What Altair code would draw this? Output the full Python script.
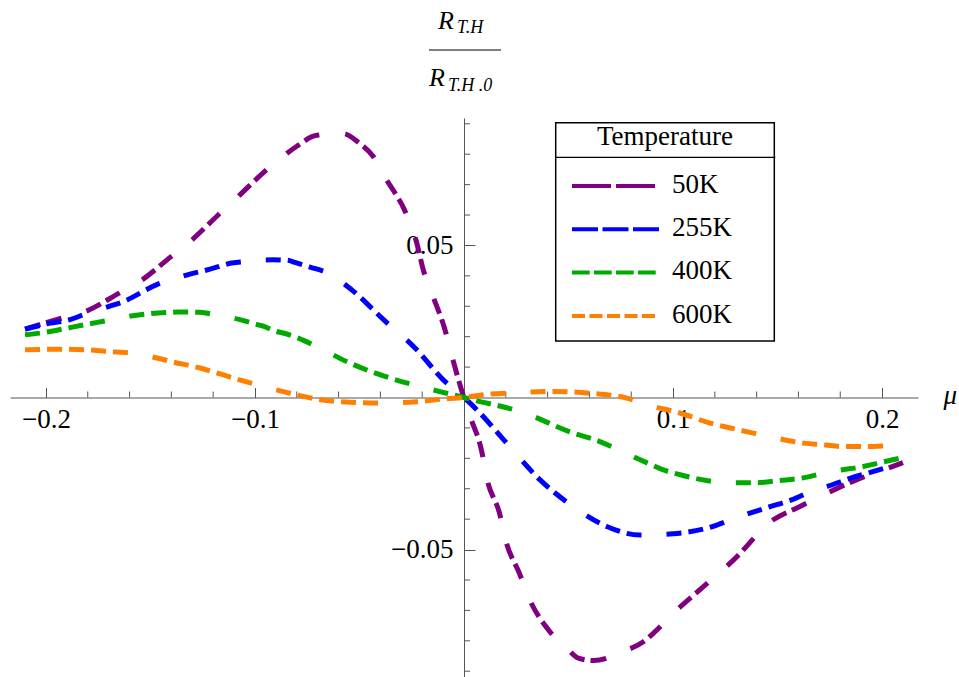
import altair as alt
import pandas as pd

# ---------------- data ----------------
series_names = ["50K", "255K", "400K", "600K"]
series_colors = ["#800080", "#0000FF", "#00AA00", "#FF8000"]
plot_dashes = [
    [16, 6, 16, 26],
    [15, 7, 15, 7, 15, 25],
    [15, 7, 15, 7, 15, 7, 15, 25],
    [15, 7, 15, 7, 15, 7, 15, 7, 15, 25],
]
legend_dashes = [[39, 5], [26, 4.5], [17.7, 4.3], [13, 4.5]]

mu_50 = [-0.21, -0.195, -0.181, -0.165, -0.155, -0.14, -0.131, -0.1175, -0.1088, -0.0944,
         -0.0856, -0.080, -0.0705, -0.058, -0.050, -0.0435, -0.0378, -0.034, -0.0285, -0.0226,
         -0.0195, -0.0148, -0.0091, -0.0053, 0.0, 0.0029, 0.0085, 0.0109, 0.0172, 0.0197,
         0.0268, 0.0308, 0.0411, 0.0491, 0.0547, 0.062, 0.0763, 0.0858, 0.0914, 0.1002,
         0.1137, 0.129, 0.148, 0.159, 0.172, 0.188, 0.200, 0.21]
r_50 = [0.0225, 0.0256, 0.0283, 0.0343, 0.0382, 0.0464, 0.0513, 0.0601, 0.0656, 0.0749,
        0.0798, 0.0826, 0.0862, 0.0868, 0.0836, 0.0793, 0.0723, 0.0683, 0.0617, 0.0508,
        0.042, 0.0332, 0.0223, 0.0124, -0.0002, -0.0062, -0.0178, -0.0265, -0.0386, -0.0463,
        -0.0583, -0.0655, -0.0770, -0.0824, -0.0857, -0.0865, -0.0835, -0.0803, -0.077, -0.0709,
        -0.0627, -0.0534, -0.0402, -0.0364, -0.032, -0.027, -0.024, -0.0214]

mu_255 = [-0.21, -0.1997, -0.1885, -0.1821, -0.1701, -0.1638, -0.147, -0.1319, -0.1215, -0.1111,
          -0.1037, -0.0915, -0.0844, -0.0809, -0.0737, -0.0636, -0.0537, -0.0385, -0.0226, -0.0099,
          0.0, 0.0061, 0.0204, 0.0364, 0.0523, 0.0683, 0.0842, 0.1001, 0.1161, 0.132,
          0.1464, 0.157, 0.166, 0.1735, 0.185, 0.196, 0.209]
r_255 = [0.0225, 0.0242, 0.0256, 0.0272, 0.0299, 0.0313, 0.0371, 0.0404, 0.0422, 0.0442,
         0.0447, 0.0453, 0.0451, 0.0444, 0.0429, 0.0404, 0.0354, 0.0256, 0.0157, 0.0058,
         0.0, -0.004, -0.015, -0.0271, -0.0359, -0.0424, -0.0452, -0.0448, -0.043, -0.0391,
         -0.0359, -0.0336, -0.0309, -0.0293, -0.0265, -0.0243, -0.0216]

mu_400 = [-0.21, -0.2025, -0.192, -0.1818, -0.1707, -0.1585, -0.1407, -0.1367, -0.1263, -0.1191,
          -0.1072, -0.1, -0.0968, -0.0896, -0.0865, -0.0793, -0.0689, -0.0545, -0.0354, -0.021,
          -0.0083, 0.0, 0.0045, 0.0268, 0.0523, 0.065, 0.0772, 0.089, 0.0954, 0.1057,
          0.116, 0.1273, 0.14, 0.151, 0.1616, 0.172, 0.179, 0.191, 0.198, 0.209]
r_400 = [0.0206, 0.0212, 0.0225, 0.0239, 0.0253, 0.0269, 0.028, 0.0281, 0.028, 0.0272,
         0.0256, 0.0242, 0.0236, 0.0217, 0.0212, 0.0195, 0.0162, 0.0113, 0.0064, 0.0036,
         0.0014, 0.0, -0.0008, -0.0046, -0.0117, -0.0145, -0.0183, -0.0219, -0.0238, -0.0258,
         -0.0273, -0.028, -0.028, -0.0273, -0.0265, -0.0249, -0.024, -0.0227, -0.0216, -0.0199]

mu_600 = [-0.21, -0.1917, -0.181, -0.1702, -0.1595, -0.147, -0.14, -0.1263, -0.1104, -0.0992,
          -0.0833, -0.0705, -0.0545, -0.0402, -0.0226, -0.0083, 0.0, 0.0092, 0.0252, 0.0428,
          0.0603, 0.0778, 0.0874, 0.1033, 0.1177, 0.128, 0.1384, 0.1496, 0.1625, 0.1727,
          0.18, 0.1914, 0.2014, 0.209]
r_600 = [0.0157, 0.0159, 0.0157, 0.0151, 0.0146, 0.013, 0.0118, 0.0097, 0.0064, 0.0042,
         0.0014, -0.0005, -0.0016, -0.0018, -0.0014, -0.0004, 0.0, 0.0009, 0.0016, 0.002,
         0.0014, -0.0002, -0.0024, -0.0051, -0.0084, -0.0101, -0.0117, -0.0134, -0.015, -0.0156,
         -0.0161, -0.0161, -0.0159, -0.0158]

series_mu = [mu_50, mu_255, mu_400, mu_600]
series_r = [r_50, r_255, r_400, r_600]

x_major = [-0.2, -0.1, 0.1, 0.2]
x_minor = [-0.18, -0.16, -0.14, -0.12, -0.08, -0.06, -0.04, -0.02,
           0.02, 0.04, 0.06, 0.08, 0.12, 0.14, 0.16, 0.18]
y_major = [-0.05, 0.05]
y_minor = [-0.09, -0.08, -0.07, -0.06, -0.04, -0.03, -0.02, -0.01,
           0.01, 0.02, 0.03, 0.04, 0.06, 0.07, 0.08, 0.09]

legend_title = "Temperature"
x_title = "μ"

# ---------------- layout ----------------
W, H = 908, 559
XD, YD = 0.2172, 0.0919
SERIF = "'Times New Roman', 'Liberation Serif', 'DejaVu Serif', serif"
AX = "#555555"

xscale = alt.Scale(domain=[-XD, XD], nice=False, zero=False)
yscale = alt.Scale(domain=[-YD, YD], nice=False, zero=False)

xaxis = alt.Axis(orient="top", offset=-H / 2, values=x_major, format="~g",
                 labelFont=SERIF, labelFontSize=27, labelColor="black",
                 labelPadding=-39.6, labelBaseline="alphabetic", labelAlign="center",
                 labelFlush=False, labelOverlap=False,
                 tickSize=10, tickColor=AX, tickWidth=1, domainColor=AX, domainWidth=1,
                 grid=False, title=x_title, titleFont=SERIF, titleFontSize=27,
                 titleFontStyle="italic", titleFontWeight="normal", titleColor="black",
                 titleX=933, titleY=5.5, titleAlign="left", titleBaseline="alphabetic",
                 titleAngle=0)
yaxis = alt.Axis(orient="right", offset=-W / 2, values=y_major, format="~g",
                 labelFont=SERIF, labelFontSize=27, labelColor="black",
                 labelPadding=-22, labelAlign="right", labelBaseline="middle",
                 labelFlush=False, labelOverlap=False,
                 tickSize=11, tickColor=AX, tickWidth=1, domainColor=AX, domainWidth=1,
                 grid=False, title="")


def X():
    return alt.X("mu:Q", scale=xscale, axis=xaxis)


def Y():
    return alt.Y("r:Q", scale=yscale, axis=yaxis)


layers = []

# minor ticks (on the axes through the origin)
xt_df = pd.DataFrame({"mu": x_minor, "r": [0.0] * len(x_minor)})
layers.append(alt.Chart(xt_df).mark_tick(
    orient="vertical", size=6, thickness=1, color=AX, yOffset=-3, opacity=1).encode(x=X(), y=Y()))
yt_df = pd.DataFrame({"mu": [0.0] * len(y_minor), "r": y_minor})
layers.append(alt.Chart(yt_df).mark_tick(
    orient="horizontal", size=6, thickness=1, color=AX, xOffset=3, opacity=1).encode(x=X(), y=Y()))

# curves
for name, xs, ys, col, dash in zip(series_names, series_mu, series_r, series_colors, plot_dashes):
    df = pd.DataFrame({"mu": xs, "r": ys, "T": name})
    layers.append(alt.Chart(df).mark_line(
        color=col, strokeWidth=5, strokeDash=dash, strokeCap="butt",
        interpolate="monotone").encode(x=X(), y=Y()))

one = pd.DataFrame({"a": [0]})


def txt(s, x, y, size, style="normal", align="left", baseline="alphabetic"):
    return alt.Chart(one).mark_text(font=SERIF, fontSize=size, fontStyle=style,
                                    align=align, baseline=baseline, color="black").encode(
        x=alt.value(x), y=alt.value(y), text=alt.value(s))


# y-axis label (fraction) at top
layers.append(txt("R", 428, -88.7, 26, "italic"))
layers.append(txt("T.H", 447, -84.7, 18, "italic"))
layers.append(alt.Chart(one).mark_rule(color="black", strokeWidth=1.2).encode(
    x=alt.value(419), x2=alt.value(491), y=alt.value(-68)))
layers.append(txt("R", 419, -32, 26, "italic"))
layers.append(txt("T.H .0", 438, -27.3, 18, "italic"))

# legend box
LX0, LX1, LY0, LY1 = 545.7, 764.3, 4.7, 223
layers.append(alt.Chart(one).mark_rect(fill="white", stroke="black", strokeWidth=1.5).encode(
    x=alt.value(LX0), x2=alt.value(LX1), y=alt.value(LY0), y2=alt.value(LY1)))
layers.append(alt.Chart(one).mark_rule(color="black", strokeWidth=1.2).encode(
    x=alt.value(LX0), x2=alt.value(LX1 + 1), y=alt.value(39.3)))
layers.append(txt(legend_title, (LX0 + LX1) / 2, 27, 27, align="center"))

row_y0, row_step = 68, 43.3
line_x1 = [645.7, 650, 645.7, 645.7]
for i, (name, col, ld) in enumerate(zip(series_names, series_colors, legend_dashes)):
    yy = row_y0 + i * row_step
    layers.append(alt.Chart(one).mark_rule(color=col, strokeWidth=4, strokeDash=ld,
                                           strokeCap="butt").encode(
        x=alt.value(562), x2=alt.value(line_x1[i]), y=alt.value(yy)))
    layers.append(txt(name, 662, yy + 6.7, 27))

chart = alt.layer(*layers).properties(
    width=W, height=H,
    autosize=alt.AutoSizeParams(type="none"),
    padding={"left": 10, "top": 118, "right": 959 - 10 - W, "bottom": 0},
    background="white",
).configure_view(stroke="transparent")

chart.save("out.html", embed_options={"renderer": "svg", "actions": False})
